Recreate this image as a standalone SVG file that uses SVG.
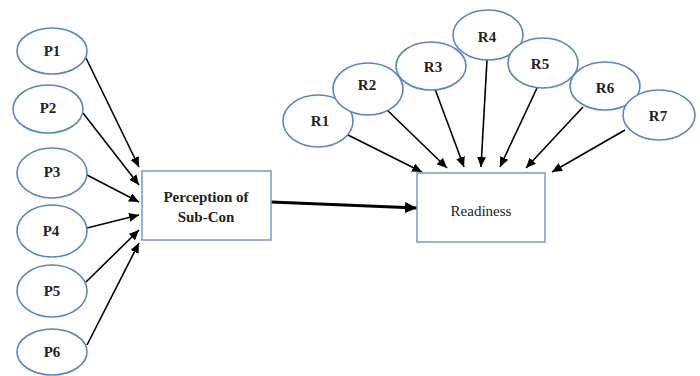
<svg xmlns="http://www.w3.org/2000/svg" width="700" height="376" viewBox="0 0 700 376">
<defs>
<marker id="ah" markerUnits="userSpaceOnUse" markerWidth="11" markerHeight="9" refX="10" refY="4.5" orient="auto"><path d="M0,0 L10,4.5 L0,9 z" fill="#000"/></marker>
<marker id="ahb" markerUnits="userSpaceOnUse" markerWidth="13" markerHeight="11" refX="12" refY="5.5" orient="auto"><path d="M0,0 L12,5.5 L0,11 z" fill="#000"/></marker>
<style>
.el{fill:#fff;stroke:#5b84c4;stroke-width:1.6}
.bx{fill:#fff;stroke:#7ea0d0;stroke-width:1.6}
.lb{font-family:"Liberation Serif","Times New Roman",serif;font-size:15px;font-weight:bold;fill:#222;text-anchor:middle;dominant-baseline:central}
.bt{font-family:"Liberation Serif","Times New Roman",serif;font-size:15px;fill:#222;text-anchor:middle;dominant-baseline:central}
.c{stroke:#000;stroke-width:1.6;fill:none;marker-end:url(#ah)}
.cb{stroke:#000;stroke-width:3;fill:none;marker-end:url(#ahb)}
</style>
</defs>
<g id="connectors">
<line class="c" x1="86" y1="58" x2="139" y2="167"/>
<line class="c" x1="83" y1="113" x2="139" y2="185"/>
<line class="c" x1="87" y1="175" x2="139" y2="202"/>
<line class="c" x1="87" y1="228" x2="139" y2="215"/>
<line class="c" x1="86" y1="282" x2="139" y2="230"/>
<line class="c" x1="87" y1="345" x2="139" y2="243"/>
<line class="cb" x1="271" y1="202" x2="417" y2="208"/>
<line class="c" x1="348" y1="135" x2="422" y2="172"/>
<line class="c" x1="385" y1="108" x2="447" y2="168"/>
<line class="c" x1="435" y1="89" x2="464" y2="167"/>
<line class="c" x1="487" y1="60" x2="481" y2="167"/>
<line class="c" x1="537" y1="88" x2="500" y2="167"/>
<line class="c" x1="583" y1="107" x2="526" y2="168"/>
<line class="c" x1="625" y1="130" x2="552" y2="172"/>
</g>
<g id="P1"><ellipse class="el" cx="52" cy="51" rx="35" ry="23"/><text class="lb" x="52" y="51">P1</text></g>
<g id="P2"><ellipse class="el" cx="48" cy="109" rx="35" ry="24"/><text class="lb" x="48" y="108">P2</text></g>
<g id="P3"><ellipse class="el" cx="52" cy="173" rx="35" ry="25"/><text class="lb" x="52" y="172">P3</text></g>
<g id="P4"><ellipse class="el" cx="52" cy="231" rx="35" ry="26"/><text class="lb" x="51" y="231">P4</text></g>
<g id="P5"><ellipse class="el" cx="52" cy="291" rx="35" ry="26"/><text class="lb" x="52" y="291">P5</text></g>
<g id="P6"><ellipse class="el" cx="52" cy="352" rx="35" ry="23"/><text class="lb" x="52" y="352">P6</text></g>
<g id="perception"><rect class="bx" x="142" y="171" width="129" height="69"/><text class="lb" x="206" y="197">Perception of</text><text class="lb" x="206" y="217">Sub-Con</text></g>
<g id="readiness"><rect class="bx" x="417" y="173" width="128" height="69"/><text class="bt" x="481" y="211">Readiness</text></g>
<g id="R1"><ellipse class="el" cx="318" cy="121" rx="35" ry="26"/><text class="lb" x="320" y="121">R1</text></g>
<g id="R2"><ellipse class="el" cx="368" cy="89" rx="35" ry="26"/><text class="lb" x="367" y="85">R2</text></g>
<g id="R3"><ellipse class="el" cx="431" cy="66" rx="35" ry="24"/><text class="lb" x="433" y="67">R3</text></g>
<g id="R4"><ellipse class="el" cx="488" cy="35" rx="35" ry="25"/><text class="lb" x="487" y="37">R4</text></g>
<g id="R5"><ellipse class="el" cx="543" cy="63" rx="35" ry="25"/><text class="lb" x="540" y="64">R5</text></g>
<g id="R6"><ellipse class="el" cx="605" cy="86" rx="35" ry="24"/><text class="lb" x="605" y="88">R6</text></g>
<g id="R7"><ellipse class="el" cx="659" cy="115" rx="36" ry="25"/><text class="lb" x="658" y="116">R7</text></g>
</svg>
